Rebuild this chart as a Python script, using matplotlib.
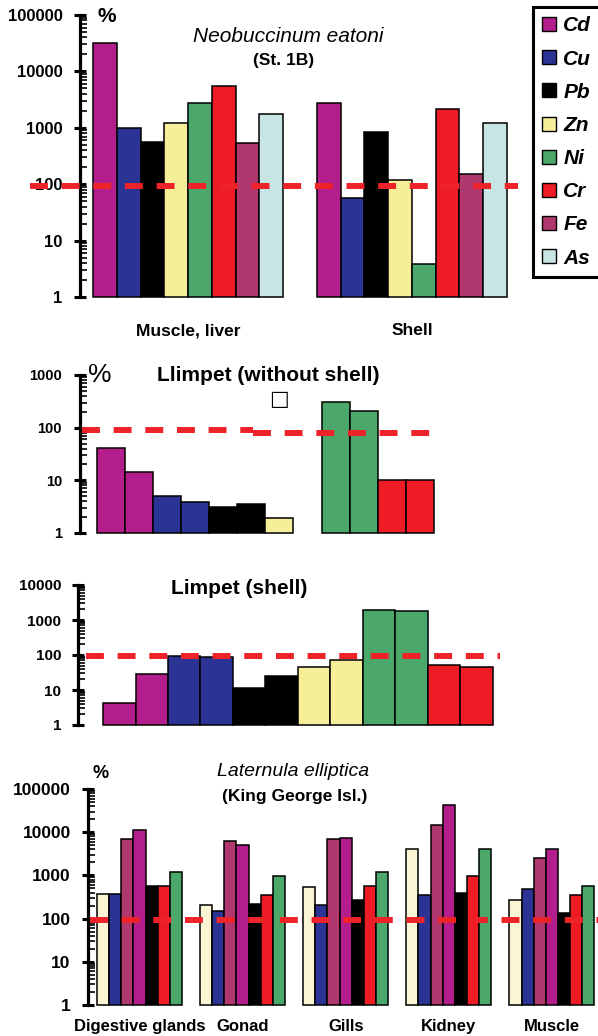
import numpy as np
import matplotlib
matplotlib.use('Agg')
import matplotlib.pyplot as plt
from matplotlib.patches import Patch
from matplotlib.ticker import LogLocator, NullFormatter, FuncFormatter

plt.rcParams['font.family'] = ['Liberation Sans', 'DejaVu Sans']
plt.rcParams['font.weight'] = 'bold'

# Neobuccinum eatoni (St. 1B)
elements = ['Cd', 'Cu', 'Pb', 'Zn', 'Ni', 'Cr', 'Fe', 'As']
neo_groups = ['Muscle, liver', 'Shell']
neo_muscle = [32000, 1000, 570, 1200, 2700, 5500, 530, 1780]
neo_shell = [2700, 58, 840, 117, 3.8, 2150, 153, 1220]

# Llimpet (without shell)
soft_elems_a = ['Cd', 'Cd', 'Cu', 'Cu', 'Pb', 'Pb', 'Zn']
soft_vals_a = [42, 14.5, 5.0, 3.8, 3.15, 3.5, 1.95]
soft_elems_b = ['Ni', 'Ni', 'Cr', 'Cr']
soft_vals_b = [310, 205, 10.2, 10.2]

# Limpet (shell)
shell_elems = ['Cd', 'Cd', 'Cu', 'Cu', 'Pb', 'Pb', 'Zn', 'Zn', 'Ni', 'Ni', 'Cr', 'Cr']
shell_vals = [4.2, 28, 95, 86, 11.5, 25.5, 45, 70, 1950, 1800, 52, 46]

# Laternula elliptica (King George Isl.)
lat_elems = ['Zn', 'Cu', 'Fe', 'Cd', 'Pb', 'Cr', 'Ni']
lat_tissues = ['Digestive glands', 'Gonad', 'Gills', 'Kidney', 'Muscle']
lat_digestive = [376, 376, 6900, 11300, 575, 575, 1200]
lat_gonad = [212, 151, 6300, 5000, 215, 350, 950]
lat_gills = [540, 212, 6900, 7400, 274, 575, 1200]
lat_kidney = [4100, 350, 14500, 42000, 390, 950, 4100]
lat_muscle = [274, 490, 2550, 4100, 132, 350, 575]

colors = {'Cd': '#B41E8C', 'Cu': '#2B3494', 'Pb': '#000000', 'Zn': '#F6EE98',
          'Ni': '#4CA86A', 'Cr': '#EE1C24', 'Fe': '#B0386E', 'As': '#C6E5E3'}
cream = '#FAF5D2'
dash_red = '#EE2229'

W, H = 598, 1036
fig = plt.figure(figsize=(W / 100, H / 100), dpi=100)


def px_axes(left, top, right, bottom):
    return fig.add_axes([left / W, 1 - bottom / H, (right - left) / W, (bottom - top) / H])


def ftext(x, y, s, **kw):
    fig.text(x / W, 1 - y / H, s, ha='center', va='center', **kw)


def style(ax, ymax, labelsize, pad):
    ax.set_yscale('log')
    ax.set_ylim(1, ymax)
    for s in ['top', 'right', 'bottom']:
        ax.spines[s].set_visible(False)
    ax.spines['left'].set_linewidth(2.3)
    ax.yaxis.set_major_locator(LogLocator(base=10, numticks=12))
    ax.yaxis.set_minor_locator(LogLocator(base=10, subs=np.arange(2, 10), numticks=12))
    ax.yaxis.set_major_formatter(FuncFormatter(lambda v, p: f'{int(round(v))}'))
    ax.yaxis.set_minor_formatter(NullFormatter())
    ax.tick_params(axis='y', which='major', direction='inout', length=9, width=2.2,
                   labelsize=labelsize, pad=pad)
    ax.tick_params(axis='y', which='minor', direction='in', length=5, width=1.2)
    ax.tick_params(axis='x', length=0)
    ax.patch.set_alpha(0)


def refline(ax, y, x0, x1):
    ax.plot([x0, x1], [y, y], color=dash_red, lw=4.3, dashes=(3.0, 2.3), clip_on=False, zorder=5)


def bars(ax, x, vals, cols):
    v = np.array(vals, dtype=float)
    ax.bar(x, v - 1, bottom=1, width=1, color=cols, edgecolor='black', linewidth=1.1,
           clip_on=False, zorder=3)


# ---- panel 1
ax1 = px_axes(80, 15, 520, 297)
x_m = np.arange(len(elements))
x_s = x_m + len(elements) + 1.43
bars(ax1, x_m, neo_muscle, [colors[e] for e in elements])
bars(ax1, x_s, neo_shell, [colors[e] for e in elements])
style(ax1, 100000, 12, 8)
ax1.set_xlim(-1.05, 17.48)
refline(ax1, 94, -3.15, 17.39)
ax1.set_xticks([x_m.mean(), x_s.mean()])
ax1.set_xticklabels(neo_groups, fontsize=12.5)
ax1.tick_params(axis='x', pad=19)
ftext(107, 17, '%', fontsize=15)
ftext(288, 36, 'Neobuccinum eatoni', fontsize=15, style='italic', weight='normal')
ftext(284, 61, '(St. 1B)', fontsize=12.5)

handles = [Patch(facecolor=colors[e], edgecolor='black', linewidth=1.0) for e in elements]
leg = fig.legend(handles, elements, loc='upper left', bbox_to_anchor=(533 / W, 1 - 7 / H),
                 prop={'size': 15, 'style': 'italic', 'weight': 'bold'},
                 handlelength=0.65, handleheight=0.65, handletextpad=0.35,
                 labelspacing=0.68, borderpad=0.45, borderaxespad=0, fancybox=False,
                 edgecolor='black', framealpha=1)
leg.get_frame().set_linewidth(2.2)

# ---- panel 2
ax2 = px_axes(80, 375, 440, 533)
xa = np.arange(len(soft_elems_a))
xb = np.arange(len(soft_elems_b)) + len(soft_elems_a) + 1.04
bars(ax2, xa, soft_vals_a, [colors[e] for e in soft_elems_a])
bars(ax2, xb, soft_vals_b, [colors[e] for e in soft_elems_b])
style(ax2, 1000, 10.5, 8.5)
ax2.set_xlim(-1.11, 11.75)
ax2.set_xticks([])
refline(ax2, 90, -1.04, 5.07)
refline(ax2, 78, 5.07, 11.68)
ftext(100, 375, '%', fontsize=19, weight='normal')
ftext(268, 376, 'Llimpet (without shell)', fontsize=15)
ftext(279, 399, '\u25a1', fontsize=15, weight='normal', family='DejaVu Sans')

# ---- panel 3
ax3 = px_axes(78, 585, 502, 725)
x3 = np.arange(len(shell_elems))
bars(ax3, x3, shell_vals, [colors[e] for e in shell_elems])
style(ax3, 10000, 11, 7.5)
ax3.set_xlim(-1.27, 11.78)
ax3.set_xticks([])
refline(ax3, 95, -1.02, 11.72)
ftext(239, 588, 'Limpet (shell)', fontsize=15)

# ---- panel 4
ax4 = px_axes(88, 789, 598, 1005)
lat_vals = [lat_digestive, lat_gonad, lat_gills, lat_kidney, lat_muscle]
lat_cols = [cream if e == 'Zn' else colors[e] for e in lat_elems]
centers = []
for g, vals in enumerate(lat_vals):
    xg = np.arange(len(lat_elems)) + g * 8.5
    bars(ax4, xg, vals, lat_cols)
    centers.append(xg.mean())
style(ax4, 100000, 12.5, 8)
ax4.set_xlim(-1.24, 40.8)
refline(ax4, 95, -1.08, 40.8)
ax4.set_xticks(centers)
ax4.set_xticklabels(lat_tissues, fontsize=12)
ax4.tick_params(axis='x', pad=10)
ftext(101, 773, '%', fontsize=13)
ftext(293, 772, 'Laternula elliptica', fontsize=14, style='italic', weight='normal')
ftext(295, 796, '(King George Isl.)', fontsize=12.5)

fig.savefig('out.png', dpi=100)
